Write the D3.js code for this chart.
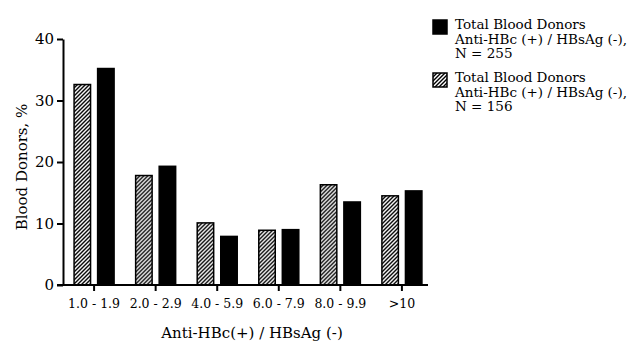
<!DOCTYPE html>
<html>
<head>
<meta charset="utf-8">
<script src="https://cdn.jsdelivr.net/npm/d3@7"></script>
<style>
  body { margin: 0; background: #fff; }
  svg text { font-family: "DejaVu Serif", serif; fill: #000; }
</style>
</head>
<body>
<div id="chart"></div>
<script>
// Data
const categories = ["1.0 - 1.9", "2.0 - 2.9", "4.0 - 5.9", "6.0 - 7.9", "8.0 - 9.9", ">10"];
const seriesNames = ["n156", "n255"];
const values156 = [32.6, 17.8, 10.1, 8.9, 16.3, 14.5];
const values255 = [35.2, 19.3, 7.9, 9.0, 13.5, 15.3];
const yTicks = [0, 10, 20, 30, 40];
const legendItems = [
  { key: "n255", lines: ["Total Blood Donors", "Anti-HBc (+) / HBsAg (-),", "N = 255"] },
  { key: "n156", lines: ["Total Blood Donors", "Anti-HBc (+) / HBsAg (-),", "N = 156"] }
];

const width = 627, height = 341;
const margin = { left: 63, top: 39, right: 194, bottom: 56 };

const svg = d3.select("#chart")
  .append("svg")
  .attr("width", width)
  .attr("height", height);

// Hatch pattern
const defs = svg.append("defs");
defs.append("pattern")
  .attr("id", "hatch")
  .attr("patternUnits", "userSpaceOnUse")
  .attr("width", 4)
  .attr("height", 4)
  .call(p => {
    p.append("rect").attr("width", 4).attr("height", 4).attr("fill", "#fff");
    p.append("path")
      .attr("d", "M-1,1 l2,-2 M0,4 l4,-4 M3,5 l2,-2")
      .attr("stroke", "#000")
      .attr("stroke-width", 1.4);
  });

const fills = { n156: "url(#hatch)", n255: "#000" };

const x = d3.scaleBand()
  .domain(categories)
  .range([margin.left, width - margin.right])
  .paddingInner(0.35)
  .paddingOuter(0.18);

const xs = d3.scaleBand()
  .domain(seriesNames)
  .range([0, x.bandwidth()])
  .paddingInner(0.3);

const y = d3.scaleLinear()
  .domain([0, 40])
  .range([height - margin.bottom, margin.top]);

const rows = categories.map((c, i) => ({ cat: c, n156: values156[i], n255: values255[i] }));

// Bars
const groups = svg.append("g").attr("class", "bars")
  .selectAll("g")
  .data(rows)
  .join("g")
  .attr("transform", d => "translate(" + x(d.cat) + ",0)");

groups.selectAll("rect")
  .data(d => seriesNames.map(k => ({ key: k, value: d[k] })))
  .join("rect")
  .attr("x", d => xs(d.key))
  .attr("y", d => y(d.value))
  .attr("width", xs.bandwidth())
  .attr("height", d => y(0) - y(d.value))
  .attr("fill", d => fills[d.key])
  .attr("stroke", "#000")
  .attr("stroke-width", 1.5);

// Y axis
const yAxis = svg.append("g")
  .attr("transform", "translate(" + margin.left + ",0)")
  .call(d3.axisLeft(y).tickValues(yTicks).tickSize(6).tickSizeOuter(0).tickPadding(3));
yAxis.select(".domain").attr("stroke-width", 2);
yAxis.selectAll(".tick line").attr("stroke-width", 2);
yAxis.selectAll(".tick text").style("font-size", "15px").attr("font-family", null);

// X axis
const xAxis = svg.append("g")
  .attr("transform", "translate(0," + y(0) + ")")
  .call(d3.axisBottom(x).tickSize(6).tickSizeOuter(0).tickPadding(8));
xAxis.select(".domain")
  .attr("d", "M" + (margin.left - 6) + ",0H" + (x.range()[1] - 5))
  .attr("stroke-width", 2);
xAxis.selectAll(".tick line").attr("stroke-width", 2);
xAxis.selectAll(".tick text").style("font-size", "12.5px").attr("font-family", null);

// Axis titles
svg.append("text")
  .attr("x", (x.range()[0] + x.range()[1]) / 2 + 4)
  .attr("y", 338)
  .attr("text-anchor", "middle")
  .style("font-size", "15px")
  .text("Anti-HBc(+) / HBsAg (-)");

svg.append("text")
  .attr("transform", "translate(27," + ((y(0) + y(40)) / 2 + 5) + ") rotate(-90)")
  .attr("text-anchor", "middle")
  .style("font-size", "15px")
  .text("Blood Donors, %");

// Legend
const legend = svg.append("g").attr("class", "legend")
  .selectAll("g")
  .data(legendItems)
  .join("g")
  .attr("transform", (d, i) => "translate(433," + (20 + i * 53) + ")");

legend.append("rect")
  .attr("width", 14)
  .attr("height", 14)
  .attr("fill", d => fills[d.key])
  .attr("stroke", "#000")
  .attr("stroke-width", 1.5);

legend.append("text")
  .style("font-size", "13.5px")
  .selectAll("tspan")
  .data(d => d.lines)
  .join("tspan")
  .attr("x", 22)
  .attr("y", (d, i) => 9 + i * 14.5)
  .text(d => d);
</script>
</body>
</html>
